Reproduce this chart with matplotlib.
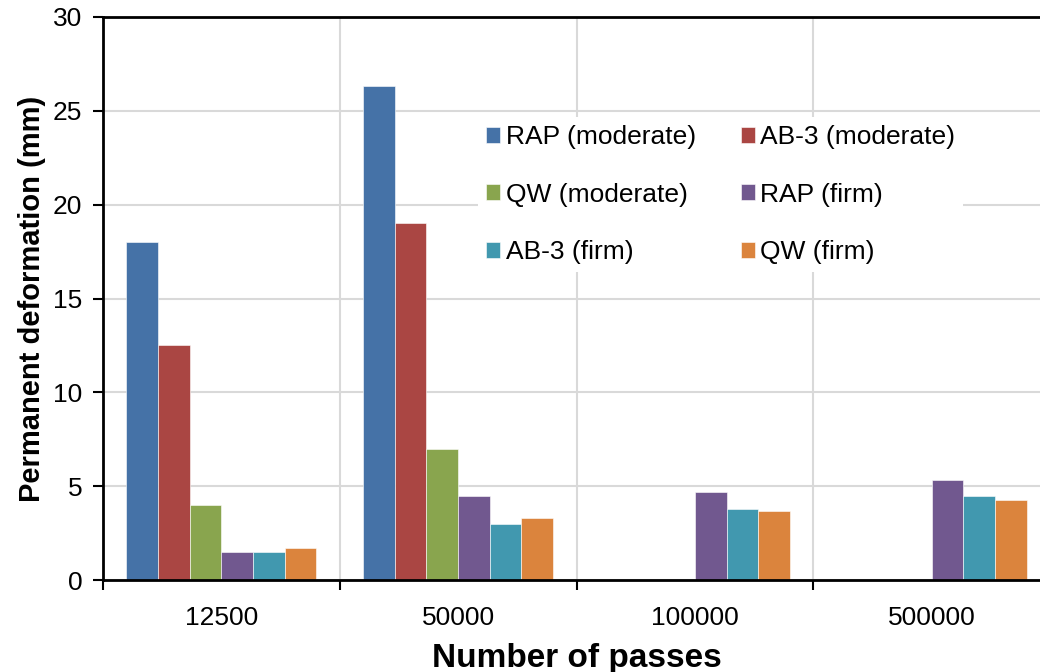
import numpy as np
import matplotlib
matplotlib.use("Agg")
import matplotlib.pyplot as plt
from matplotlib.ticker import FixedLocator

plt.rcParams['font.family'] = ['Liberation Sans', 'DejaVu Sans']

categories = ["12500", "50000", "100000", "500000"]
series_names = ["RAP (moderate)", "AB-3 (moderate)", "QW (moderate)",
                "RAP (firm)", "AB-3 (firm)", "QW (firm)"]
rap_moderate = [18.0, 26.3, np.nan, np.nan]
ab3_moderate = [12.5, 19.0, np.nan, np.nan]
qw_moderate = [4.0, 7.0, np.nan, np.nan]
rap_firm = [1.5, 4.5, 4.7, 5.35]
ab3_firm = [1.5, 3.0, 3.8, 4.5]
qw_firm = [1.7, 3.3, 3.7, 4.25]
series_values = [rap_moderate, ab3_moderate, qw_moderate, rap_firm, ab3_firm, qw_firm]
colors = ["#4572A7", "#AA4643", "#89A54E", "#71588F", "#4198AF", "#DB843D"]

fig = plt.figure(figsize=(10.4, 6.72), dpi=100)
ax = fig.add_axes([103 / 1040, 1 - 580 / 672, (1050 - 103) / 1040, (580 - 17) / 672])

x = np.arange(len(categories))
width = 0.1337
handles = []
for i, (name, vals, c) in enumerate(zip(series_names, series_values, colors)):
    b = ax.bar(x + (i - 2.5) * width, vals, width, color=c, label=name,
               edgecolor="white", linewidth=0.4, zorder=3)
    handles.append(b)

ax.set_xlim(-0.5, len(categories) - 0.5)
ax.set_ylim(0, 30)
ax.set_yticks(np.arange(0, 31, 5))
ax.set_xticks(x)
ax.set_xticklabels(categories)
ax.xaxis.set_minor_locator(FixedLocator(np.arange(-0.5, len(categories), 1.0)))

ax.tick_params(axis='x', which='major', length=0, labelsize=19, pad=19)
ax.tick_params(axis='x', which='minor', length=7, width=1.5, direction='out')
ax.tick_params(axis='y', which='major', length=7, width=1.5, labelsize=19, pad=8)

ax.grid(axis='y', which='major', color='#d9d9d9', linewidth=1.5, zorder=0)
ax.grid(axis='x', which='minor', color='#d9d9d9', linewidth=1.5, zorder=0)
ax.grid(axis='x', which='major', visible=False)

for s in ['left', 'bottom', 'top']:
    ax.spines[s].set_linewidth(2)
    ax.spines[s].set_color('black')
    ax.spines[s].set_zorder(4)
ax.spines['right'].set_visible(False)

ax.set_ylabel("Permanent deformation (mm)", fontsize=21, fontweight='bold', labelpad=5)
ax.set_xlabel("Number of passes", fontsize=24, fontweight='bold', labelpad=9)

# legend entries laid out row by row in two columns
order = [0, 2, 4, 1, 3, 5]
leg = ax.legend([handles[k] for k in order], [series_names[k] for k in order],
                ncol=2, loc='upper left', bbox_to_anchor=(478 / 1040, 1 - 117 / 672),
                bbox_transform=fig.transFigure, borderaxespad=0,
                fontsize=19, frameon=True, framealpha=1, edgecolor='white',
                fancybox=False, handlelength=0.55, handleheight=0.55,
                handletextpad=0.2, labelspacing=1.28, columnspacing=1.7,
                borderpad=0.3)
leg.get_frame().set_linewidth(0)
leg.set_zorder(5)

fig.savefig("out.png", dpi=100)
